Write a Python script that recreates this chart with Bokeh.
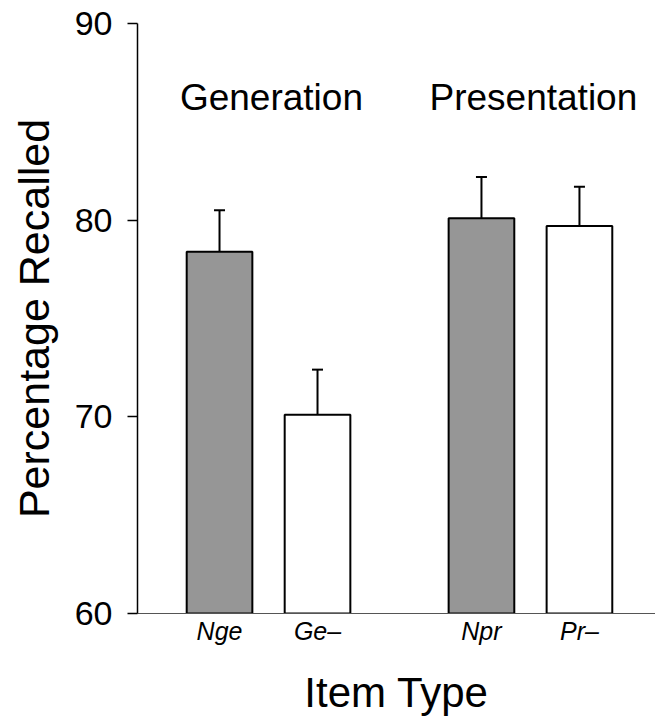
from bokeh.plotting import figure
from bokeh.models import ColumnDataSource, Range1d, FixedTicker, Whisker, TeeHead, Label
from bokeh.embed import file_html
from bokeh.resources import INLINE

# ---- data ----
groups = ["Generation", "Presentation"]
items = ["Nge", "Ge\u2013", "Npr", "Pr\u2013"]
item_group = [0, 0, 1, 1]
recalled = [78.4, 70.1, 80.1, 79.7]
err = [2.1, 2.3, 2.1, 2.0]
fills = ["#969696", "#ffffff", "#969696", "#ffffff"]
y_ticks = [60, 70, 80, 90]

GROUP_GAP = 0.673
xs = [i + g * GROUP_GAP for i, g in enumerate(item_group)]
uppers = [v + e for v, e in zip(recalled, err)]

FONT = "Liberation Sans"

p = figure(width=655, height=718, output_backend="svg", toolbar_location=None,
           x_range=Range1d(-0.837, 4.449), y_range=Range1d(60, 90),
           min_border_left=137, min_border_right=0, min_border_top=23, min_border_bottom=104)
p.outline_line_color = None
p.grid.grid_line_color = None
p.background_fill_color = "white"
p.border_fill_color = "white"

src = ColumnDataSource(dict(x=xs, top=recalled, upper=uppers, fill=fills, item=items))

whisk = Whisker(source=src, base="x", lower="top", upper="upper", dimension="height",
                lower_head=None, upper_head=TeeHead(size=11, line_width=2, line_color="black"),
                line_width=2, line_color="black")
p.add_layout(whisk)

p.vbar(x="x", top="top", bottom=60, width=0.67, fill_color="fill", line_color="black",
       line_width=2, source=src)

# group labels
for gi, gname in enumerate(groups):
    members = [x for x, g in zip(xs, item_group) if g == gi]
    cx = sum(members) / len(members)
    p.add_layout(Label(x=cx + 0.03, y=86.25, text=gname, text_align="center", text_baseline="alphabetic",
                       text_font=FONT, text_font_size="37px", text_color="black"))

# y axis
ya = p.yaxis[0]
ya.ticker = FixedTicker(ticks=y_ticks)
ya.minor_tick_line_color = None
ya.major_tick_in = 0
ya.major_tick_out = 10
ya.major_tick_line_width = 1.5
ya.major_tick_line_color = "black"
ya.axis_line_width = 1.5
ya.axis_line_color = "black"
ya.major_label_standoff = 15
ya.major_label_text_font = FONT
ya.major_label_text_font_size = "34px"
ya.major_label_text_color = "black"
ya.axis_label = "Percentage Recalled"
ya.axis_label_text_font = FONT
ya.axis_label_text_font_size = "43px"
ya.axis_label_text_font_style = "normal"
ya.axis_label_text_color = "black"
ya.axis_label_standoff = 14

# x axis
xa = p.xaxis[0]
xa.ticker = FixedTicker(ticks=xs)
xa.major_label_overrides = {x: name for x, name in zip(xs, items)}
xa.minor_tick_line_color = None
xa.major_tick_in = 0
xa.major_tick_out = 0
xa.axis_line_color = "#555555"
xa.axis_line_width = 1.2
xa.major_label_standoff = 3
xa.major_label_text_font = FONT
xa.major_label_text_font_size = "25px"
xa.major_label_text_font_style = "italic"
xa.major_label_text_color = "black"
xa.axis_label = "Item Type"
xa.axis_label_text_font = FONT
xa.axis_label_text_font_size = "42px"
xa.axis_label_text_font_style = "normal"
xa.axis_label_text_color = "black"
xa.axis_label_standoff = 21

open("out.html", "w").write(file_html(p, INLINE))
